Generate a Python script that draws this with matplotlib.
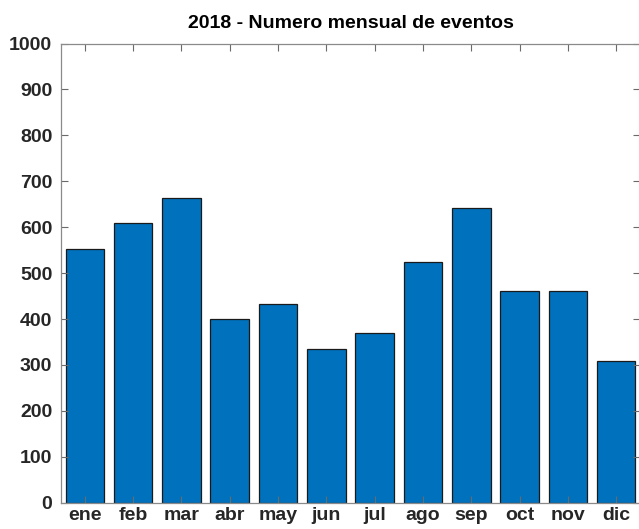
import matplotlib
matplotlib.use("Agg")
import matplotlib.pyplot as plt

# Datos
meses = ["ene", "feb", "mar", "abr", "may", "jun", "jul", "ago", "sep", "oct", "nov", "dic"]
eventos = [553, 609, 664, 400, 433, 335, 369, 524, 641, 462, 460, 308]
yticks = [0, 100, 200, 300, 400, 500, 600, 700, 800, 900, 1000]

plt.rcParams["font.family"] = ["Liberation Sans", "DejaVu Sans"]
plt.rcParams["font.weight"] = "bold"

fig = plt.figure(figsize=(6.39, 5.29), dpi=100)
ax = fig.add_axes([0.095, 0.0497, 0.907, 0.868])

x = list(range(1, len(meses) + 1))
ax.bar(x, eventos, width=0.8, color="#0072BD", edgecolor="#1a1a1a", linewidth=0.9)

ax.set_xlim(0.5, 12.5)
ax.set_ylim(0, 1000)
ax.set_xticks(x)
ax.set_xticklabels(meses)
ax.set_yticks(yticks)

for s in ax.spines.values():
    s.set_color("#8a8a8a")
    s.set_linewidth(0.9)

ax.tick_params(axis="both", direction="in", length=5, width=0.8, color="#6a6a6a",
               top=True, right=True, labelsize=14, labelcolor="#262626")
ax.tick_params(axis="x", pad=3)
ax.tick_params(axis="y", pad=6)

ax.set_title("2018 - Numero mensual de eventos", fontsize=14, fontweight="bold",
             color="black", pad=11)

fig.savefig("out.png", dpi=100)
